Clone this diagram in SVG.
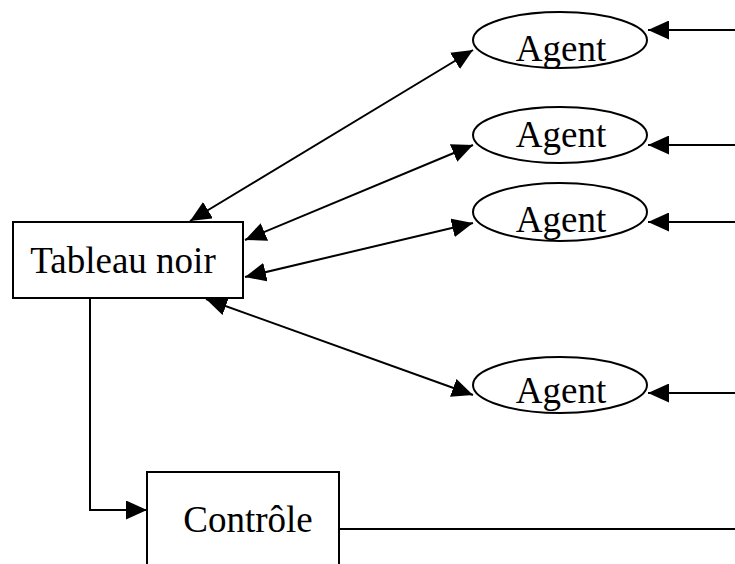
<svg xmlns="http://www.w3.org/2000/svg" width="735" height="564" viewBox="0 0 735 564">
  <defs>
    <marker id="ah" viewBox="0 0 21 19" refX="21" refY="9.5" markerWidth="21" markerHeight="19" markerUnits="userSpaceOnUse" orient="auto-start-reverse">
      <path d="M0,0 L21,9.5 L0,19 Z" fill="#000"/>
    </marker>
  </defs>
  <style>
    .box { fill: #fff; stroke: #000; stroke-width: 2; }
    .lbl { font-family: "Liberation Serif", "Times New Roman", serif; font-size: 37px; fill: #000; }
    .edge { fill: none; stroke: #000; stroke-width: 2; }
  </style>
  <rect width="735" height="564" fill="#fff"/>

  <g id="connectors">
    <!-- blackboard to agents, both ways -->
    <line class="edge" x1="190" y1="221" x2="473" y2="50" marker-start="url(#ah)" marker-end="url(#ah)"/>
    <line class="edge" x1="245" y1="240" x2="473" y2="145" marker-start="url(#ah)" marker-end="url(#ah)"/>
    <line class="edge" x1="245" y1="277" x2="473" y2="223" marker-start="url(#ah)" marker-end="url(#ah)"/>
    <line class="edge" x1="206" y1="299" x2="473" y2="395" marker-start="url(#ah)" marker-end="url(#ah)"/>
    <!-- incoming lines from the right edge -->
    <line class="edge" x1="735" y1="30" x2="648" y2="30" marker-end="url(#ah)"/>
    <line class="edge" x1="735" y1="145" x2="648" y2="145" marker-end="url(#ah)"/>
    <line class="edge" x1="735" y1="222" x2="648" y2="222" marker-end="url(#ah)"/>
    <line class="edge" x1="735" y1="393" x2="648" y2="393" marker-end="url(#ah)"/>
    <!-- blackboard to control -->
    <polyline class="edge" points="90,298 90,510 147,510" marker-end="url(#ah)"/>
    <!-- control outgoing -->
    <line class="edge" x1="339" y1="529" x2="735" y2="529"/>
  </g>

  <g id="tableau">
    <rect class="box" x="13" y="222" width="230" height="76"/>
    <text class="lbl" x="123" y="273" text-anchor="middle">Tableau noir</text>
  </g>

  <g id="controle">
    <rect class="box" x="147" y="472" width="192" height="110"/>
    <text class="lbl" x="248" y="532" text-anchor="middle">Contrôle</text>
  </g>

  <g id="agent1">
    <ellipse class="box" cx="560" cy="40" rx="87" ry="28"/>
    <text class="lbl" x="561" y="61" text-anchor="middle">Agent</text>
  </g>
  <g id="agent2">
    <ellipse class="box" cx="560" cy="135" rx="87" ry="28"/>
    <text class="lbl" x="561" y="147" text-anchor="middle">Agent</text>
  </g>
  <g id="agent3">
    <ellipse class="box" cx="560" cy="212" rx="87" ry="29"/>
    <text class="lbl" x="561" y="232" text-anchor="middle">Agent</text>
  </g>
  <g id="agent4">
    <ellipse class="box" cx="560" cy="385" rx="87" ry="28"/>
    <text class="lbl" x="561" y="403" text-anchor="middle">Agent</text>
  </g>
</svg>
